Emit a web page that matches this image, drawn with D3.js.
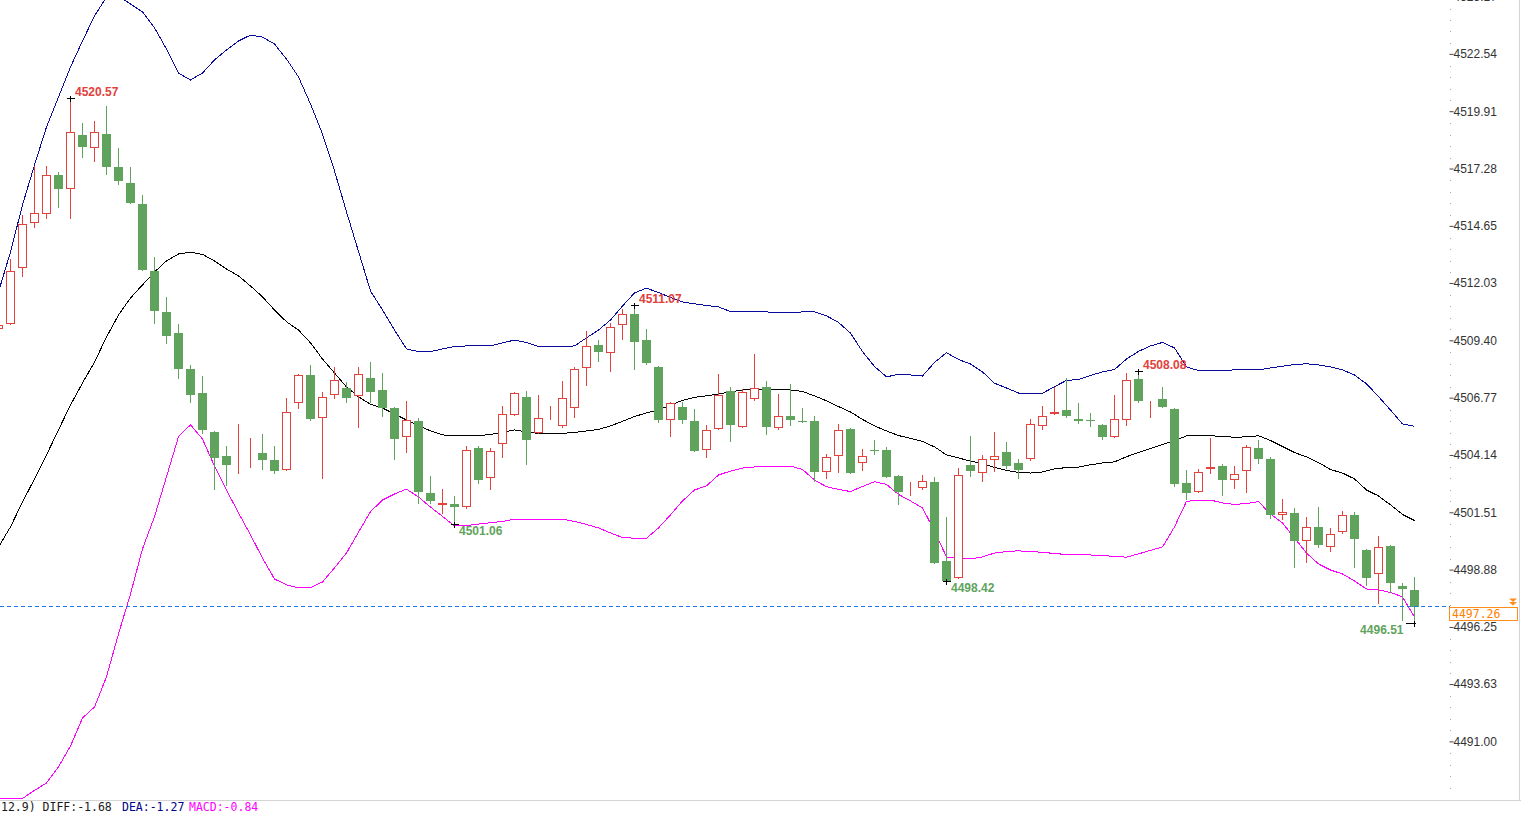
<!DOCTYPE html>
<html>
<head>
<meta charset="utf-8">
<script src="https://cdn.jsdelivr.net/npm/d3@7"></script>
<style>
  body { margin: 0; background: #fff; overflow: hidden; }
  svg { display: block; }
</style>
</head>
<body>
<div id="chart"></div>
<script>
// candles, left to right
const opens = [4509.99,4510.20,4512.77,4514.84,4515.25,4517.05,4516.40,4518.89,4518.28,4518.93,
  4517.42,4516.69,4515.72,4512.65,4510.77,4509.80,4508.15,4507.05,4505.28,4504.16,
  4503.75,4503.72,4504.30,4503.97,4503.51,4506.58,4507.86,4505.89,4506.95,4507.28,
  4506.90,4507.73,4507.19,4506.36,4505.02,4505.77,4502.48,4501.90,4501.96,4501.79,
  4504.53,4503.12,4504.70,4506.03,4506.87,4505.22,4505.89,4505.55,4506.35,4508.19,
  4509.25,4508.87,4510.16,4510.68,4509.48,4508.23,4505.85,4506.42,4505.77,4504.42,
  4505.39,4507.13,4505.49,4506.76,4507.31,4505.43,4506.00,4505.77,4505.77,4503.42,
  4504.15,4505.40,4503.83,4504.44,4504.44,4503.23,4502.52,4502.68,4502.97,4499.35,
  4498.55,4503.75,4503.37,4503.97,4504.33,4503.83,4504.01,4505.55,4506.08,4506.26,
  4505.85,4505.81,4505.57,4505.02,4505.80,4507.68,4506.67,4506.76,4506.31,4502.91,
  4502.50,4503.58,4503.70,4503.05,4503.44,4504.53,4504.01,4501.47,4501.53,4500.25,
  4500.89,4499.97,4500.66,4501.44,4499.85,4498.74,4500.05,4498.20,4498.02];
const highs = [4510.17,4513.20,4515.22,4517.47,4517.47,4517.19,4520.57,4519.45,4519.53,4520.22,
  4518.28,4517.41,4516.14,4513.29,4511.46,4510.22,4508.34,4507.83,4505.30,4504.64,
  4505.63,4504.97,4505.17,4504.64,4506.84,4507.92,4508.34,4507.10,4508.23,4507.54,
  4508.23,4508.47,4507.97,4506.42,4506.69,4505.89,4503.25,4502.65,4502.33,4504.62,
  4504.64,4504.52,4506.46,4507.10,4507.14,4506.96,4506.46,4507.60,4508.26,4509.90,
  4509.48,4510.28,4510.91,4511.07,4509.97,4508.29,4506.65,4506.65,4506.32,4505.59,
  4507.91,4507.33,4507.24,4508.84,4507.60,4507.01,4507.47,4506.35,4506.00,4504.25,
  4505.63,4505.45,4504.48,4504.90,4504.56,4503.29,4502.96,4503.28,4503.19,4501.36,
  4503.61,4505.08,4504.21,4505.25,4504.80,4504.03,4505.86,4506.46,4507.34,4507.73,
  4506.59,4506.12,4505.63,4506.96,4507.96,4508.08,4506.70,4507.31,4506.38,4503.52,
  4503.55,4504.97,4503.80,4503.70,4504.67,4504.90,4504.12,4502.19,4501.76,4501.35,
  4501.81,4500.85,4501.64,4501.59,4499.91,4500.48,4500.08,4498.32,4498.63];
const lows = [4509.99,4510.20,4512.43,4514.68,4515.09,4515.60,4515.07,4517.89,4517.71,4517.10,
  4516.64,4515.75,4512.68,4510.25,4509.33,4507.75,4506.65,4505.23,4502.63,4502.83,
  4503.37,4503.67,4503.58,4503.40,4503.50,4506.38,4505.80,4503.17,4506.81,4506.65,
  4505.51,4506.65,4506.01,4504.04,4504.33,4501.99,4501.99,4501.53,4501.06,4501.78,
  4502.94,4502.65,4504.13,4506.02,4503.81,4505.21,4505.88,4505.49,4505.97,4507.43,
  4508.52,4508.08,4509.53,4508.17,4508.37,4505.74,4505.09,4505.69,4504.40,4504.13,
  4505.38,4504.85,4505.48,4506.75,4505.19,4505.42,4505.57,4505.74,4503.02,4503.14,
  4503.42,4503.40,4503.52,4504.24,4503.20,4501.95,4502.39,4502.67,4499.25,4498.42,
  4498.55,4503.25,4503.03,4503.49,4503.60,4503.17,4504.00,4505.39,4506.07,4505.96,
  4505.69,4505.55,4504.93,4505.01,4505.57,4506.64,4505.97,4506.39,4502.80,4502.18,
  4502.49,4503.40,4502.39,4502.71,4502.52,4503.86,4501.33,4501.27,4499.06,4499.31,
  4499.97,4499.80,4500.65,4499.06,4498.26,4497.43,4497.94,4496.64,4496.51];
const closes = [4510.17,4512.65,4514.79,4515.30,4517.04,4516.40,4519.01,4518.35,4519.01,4517.43,
  4516.79,4515.78,4512.71,4510.83,4509.68,4508.17,4506.97,4505.37,4504.08,4503.76,
  4503.76,4503.78,4503.99,4503.47,4506.17,4507.86,4505.83,4506.86,4507.63,4506.84,
  4507.91,4507.11,4506.38,4504.96,4505.80,4502.53,4502.11,4502.01,4501.84,4504.42,
  4503.06,4504.38,4506.08,4507.04,4504.91,4505.91,4505.95,4506.82,4508.14,4509.19,
  4508.95,4510.07,4510.66,4509.41,4508.44,4505.78,4506.61,4505.83,4504.41,4505.34,
  4506.96,4505.55,4507.08,4507.27,4505.46,4505.98,4505.80,4505.75,4503.44,4504.10,
  4505.34,4503.40,4504.15,4504.42,4503.21,4502.48,4502.54,4503.00,4499.27,4498.45,
  4503.28,4503.46,4504.03,4504.16,4503.67,4503.53,4505.63,4506.00,4506.18,4505.97,
  4505.74,4505.79,4505.00,4505.85,4507.63,4506.65,4506.69,4506.40,4502.89,4502.43,
  4503.42,4503.66,4503.08,4503.32,4504.56,4504.04,4501.42,4501.59,4500.23,4500.89,
  4500.08,4500.57,4501.44,4500.34,4498.58,4499.97,4498.35,4498.05,4497.26];

// bollinger bands
const upperBand = [4511.69,4513.52,4515.68,4517.51,4519.25,4520.63,4522.01,4523.20,4524.35,4525.21,
  4525.26,4524.90,4524.53,4523.80,4522.83,4521.73,4521.41,4521.73,4522.33,4522.79,
  4523.20,4523.47,4523.38,4523.06,4522.37,4521.55,4520.31,4518.93,4517.24,4515.36,
  4513.55,4511.73,4510.86,4509.94,4509.07,4508.95,4508.95,4509.07,4509.19,4509.21,
  4509.21,4509.21,4509.35,4509.48,4509.37,4509.18,4509.18,4509.18,4509.21,4509.58,
  4509.94,4510.40,4511.04,4511.64,4511.86,4511.66,4511.43,4511.23,4511.14,4511.07,
  4511.00,4510.79,4510.78,4510.77,4510.77,4510.74,4510.74,4510.77,4510.77,4510.59,
  4510.29,4509.80,4508.95,4508.27,4507.79,4507.91,4507.88,4507.83,4508.45,4508.90,
  4508.59,4508.38,4508.02,4507.50,4507.28,4507.05,4507.02,4507.04,4507.34,4507.63,
  4507.67,4507.86,4508.02,4508.13,4508.61,4508.96,4509.21,4509.37,4509.12,4508.25,
  4508.08,4508.08,4508.09,4508.11,4508.11,4508.11,4508.20,4508.28,4508.36,4508.39,
  4508.34,4508.25,4508.11,4507.88,4507.47,4506.89,4506.27,4505.63,4505.52];
const midBand = [4499.99,4500.91,4502.05,4503.11,4504.21,4505.36,4506.50,4507.51,4508.47,4509.62,
  4510.63,4511.41,4512.01,4512.60,4513.11,4513.43,4513.51,4513.41,4513.11,4512.74,
  4512.42,4511.96,4511.46,4510.86,4510.32,4509.94,4509.35,4508.61,4507.97,4507.33,
  4506.88,4506.53,4506.36,4506.09,4505.81,4505.56,4505.31,4505.13,4505.09,4505.09,
  4505.09,4505.15,4505.24,4505.36,4505.26,4505.20,4505.20,4505.20,4505.24,4505.31,
  4505.38,4505.54,4505.75,4505.97,4506.14,4506.27,4506.50,4506.71,4506.85,4506.92,
  4507.01,4507.10,4507.19,4507.19,4507.21,4507.21,4507.19,4507.12,4506.92,4506.69,
  4506.43,4506.18,4505.84,4505.54,4505.31,4505.10,4504.97,4504.83,4504.58,4504.21,
  4504.07,4503.93,4503.80,4503.64,4503.50,4503.41,4503.38,4503.43,4503.57,4503.63,
  4503.65,4503.76,4503.84,4503.89,4504.13,4504.32,4504.50,4504.69,4504.87,4505.08,
  4505.09,4505.09,4505.06,4505.02,4505.04,4505.09,4504.87,4504.60,4504.32,4504.12,
  4503.86,4503.54,4503.38,4503.11,4502.60,4502.33,4501.92,4501.48,4501.20];
const lowerBand = [4488.43,4488.43,4488.45,4488.82,4489.16,4489.90,4490.86,4492.14,4492.65,4494.03,
  4496.00,4497.83,4499.90,4501.38,4503.21,4505.05,4505.59,4504.94,4503.70,4502.60,
  4501.55,4500.54,4499.48,4498.52,4498.25,4498.11,4498.12,4498.38,4499.03,4499.71,
  4500.67,4501.61,4502.14,4502.42,4502.64,4502.28,4501.82,4501.39,4500.95,4500.97,
  4501.04,4501.10,4501.16,4501.26,4501.26,4501.26,4501.26,4501.26,4501.16,4501.02,
  4500.86,4500.63,4500.42,4500.39,4500.39,4500.86,4501.46,4502.10,4502.60,4502.79,
  4503.29,4503.47,4503.61,4503.66,4503.70,4503.70,4503.70,4503.54,4503.06,4502.75,
  4502.63,4502.53,4502.76,4502.98,4502.86,4502.40,4502.10,4501.78,4500.72,4499.53,
  4499.48,4499.44,4499.53,4499.71,4499.78,4499.81,4499.78,4499.74,4499.69,4499.64,
  4499.62,4499.62,4499.60,4499.55,4499.52,4499.67,4499.83,4499.99,4500.91,4502.08,
  4502.13,4502.14,4502.01,4501.94,4501.98,4502.07,4501.50,4501.09,4500.40,4499.71,
  4499.21,4498.93,4498.75,4498.43,4498.06,4498.02,4497.90,4497.70,4496.78];

const tickValues = [4525.17,4522.54,4519.91,4517.28,4514.65,4512.03,4509.40,4506.77,4504.14,4501.51,4498.88,4496.25,4493.63,4491.00];
const lastPrice = 4497.26;
const highMarks = [6, 53, 95];
const lowMarks = [38, 79, 118];
const macdText = [
  { text: "12.9) DIFF:-1.68", color: "#1a1a1a" },
  { text: "DEA:-1.27", color: "#00008b" },
  { text: "MACD:-0.84", color: "#ff00ff" }
];

const W = 1521, H = 813;
const plotW = 1450, plotH = 800;
const upColor = "#e2413c", downColor = "#5fa35c";

const svg = d3.select("#chart").append("svg")
  .attr("width", W).attr("height", H)
  .style("background", "#fff");

const x = d3.scaleLinear().domain([0, 1]).range([-1.5, 10.5]);
const y = d3.scaleLinear().domain([4488.38, 4525.08]).range([plotH, 0]);

svg.append("clipPath").attr("id", "plot")
  .append("rect").attr("x", 0).attr("y", 0).attr("width", plotW).attr("height", plotH);

const plot = svg.append("g").attr("clip-path", "url(#plot)");

// frame lines
svg.append("line").attr("x1", 0).attr("x2", W).attr("y1", 800.5).attr("y2", 800.5)
  .attr("stroke", "#d4d4d4");
svg.append("line").attr("x1", 1519.5).attr("x2", 1519.5).attr("y1", 0).attr("y2", 800)
  .attr("stroke", "#d4d4d4");

// bands
const line = d3.line().x((d, i) => x(i)).y(d => y(d));
[[upperBand, "#0a0a9c"], [midBand, "#000"], [lowerBand, "#ff00ff"]].forEach(([arr, c]) => {
  plot.append("path").datum(arr)
    .attr("d", line)
    .attr("fill", "none")
    .attr("stroke", c)
    .attr("stroke-width", 1)
    .attr("shape-rendering", "crispEdges");
});

// candles
const candles = opens.map((o, i) => ({ i, o, h: highs[i], l: lows[i], c: closes[i], up: closes[i] >= o }));

const cg = plot.selectAll("g.candle").data(candles).join("g").attr("class", "candle");

cg.append("line")
  .attr("x1", d => x(d.i)).attr("x2", d => x(d.i))
  .attr("y1", d => Math.round(y(d.h))).attr("y2", d => Math.round(y(d.l)) + 1)
  .attr("stroke", d => d.up ? upColor : downColor)
  .attr("shape-rendering", "crispEdges");

cg.append("rect")
  .attr("x", d => d.up ? x(d.i) - 4 : x(d.i) - 4.5)
  .attr("width", d => d.up ? 8 : 9)
  .attr("y", d => {
    const t = Math.round(y(Math.max(d.o, d.c)));
    return d.up ? t + 0.5 : t;
  })
  .attr("height", d => {
    const hgt = Math.round(Math.abs(y(d.o) - y(d.c)));
    return d.up ? Math.max(0, hgt - 1) : Math.max(1, hgt);
  })
  .attr("fill", d => d.up ? "#fff" : downColor)
  .attr("stroke", d => d.up ? upColor : "none")
  .attr("stroke-width", 1)
  .attr("shape-rendering", "crispEdges");

// high / low marks
function mark(i, v, isHigh) {
  const cx = x(i), cy = Math.round(y(v)) + 0.5;
  const nearEdge = cx + 55 > plotW;
  const g = svg.append("g");
  g.append("line")
    .attr("x1", nearEdge ? cx - 9 : cx - 4).attr("x2", nearEdge ? cx + 1 : cx + 4)
    .attr("y1", cy).attr("y2", cy).attr("stroke", "#000").attr("shape-rendering", "crispEdges");
  g.append("line")
    .attr("x1", cx).attr("x2", cx).attr("y1", cy - 3).attr("y2", cy + 3)
    .attr("stroke", "#000").attr("shape-rendering", "crispEdges");
  g.append("text")
    .attr("x", nearEdge ? cx - 11 : cx + 4.5)
    .attr("y", isHigh ? cy - 2.5 : cy + 10.5)
    .attr("text-anchor", nearEdge ? "end" : "start")
    .attr("fill", isHigh ? upColor : downColor)
    .style("font", "bold 12px 'Liberation Sans', Arial, sans-serif")
    .text(v.toFixed(2));
}
highMarks.forEach(i => mark(i, highs[i], true));
lowMarks.forEach(i => mark(i, lows[i], false));

// last price line
const py = Math.round(y(lastPrice)) + 0.5;
svg.append("line")
  .attr("x1", 0).attr("x2", plotW).attr("y1", py).attr("y2", py)
  .attr("stroke", "#1e78e6").attr("stroke-dasharray", "4 3")
  .attr("shape-rendering", "crispEdges");

// right axis
const axis = svg.append("g")
  .attr("transform", `translate(${plotW - 0.5},-1.5)`)
  .call(d3.axisRight(y).tickValues(tickValues).tickSize(4).tickPadding(0).tickFormat(d3.format(".2f")));
axis.select(".domain").remove();
axis.selectAll(".tick line").attr("stroke", "#444");
axis.selectAll(".tick text")
  .attr("fill", "#333")
  .style("font", "12px 'Liberation Sans', Arial, sans-serif");

// minor tick dots
const step = tickValues[0] - tickValues[1];
const minor = [];
tickValues.forEach(t => { for (let k = 1; k < 5; k++) minor.push(t - k * step / 5); });
svg.selectAll("rect.minor").data(minor.filter(v => y(v) > 0 && y(v) < plotH)).join("rect")
  .attr("class", "minor")
  .attr("x", plotW).attr("y", d => Math.round(y(d)) - 1)
  .attr("width", 1).attr("height", 1)
  .attr("fill", "#aaa");

// price tag
svg.append("rect")
  .attr("x", plotW - 0.5).attr("y", py + 1).attr("width", 68).attr("height", 13)
  .attr("fill", "#fff").attr("stroke", "#ff8c1a").attr("shape-rendering", "crispEdges");
svg.append("text")
  .attr("x", plotW + 2).attr("y", py + 11)
  .attr("fill", "#ff7f00")
  .style("font", "11.5px 'DejaVu Sans Mono', 'Liberation Mono', monospace")
  .text(lastPrice.toFixed(2));
[py - 8, py - 4.5].forEach(t => {
  svg.append("path")
    .attr("d", `M${1509},${t}L${1517},${t}L${1513},${t + 3.5}Z`)
    .attr("fill", "#ff8c1a");
});

// macd caption
const mx = [1, 122, 189];
macdText.forEach((m, k) => {
  svg.append("text")
    .attr("x", mx[k]).attr("y", 811)
    .attr("fill", m.color)
    .style("font", "11.5px 'DejaVu Sans Mono', 'Liberation Mono', monospace")
    .text(m.text);
});
</script>
</body>
</html>
